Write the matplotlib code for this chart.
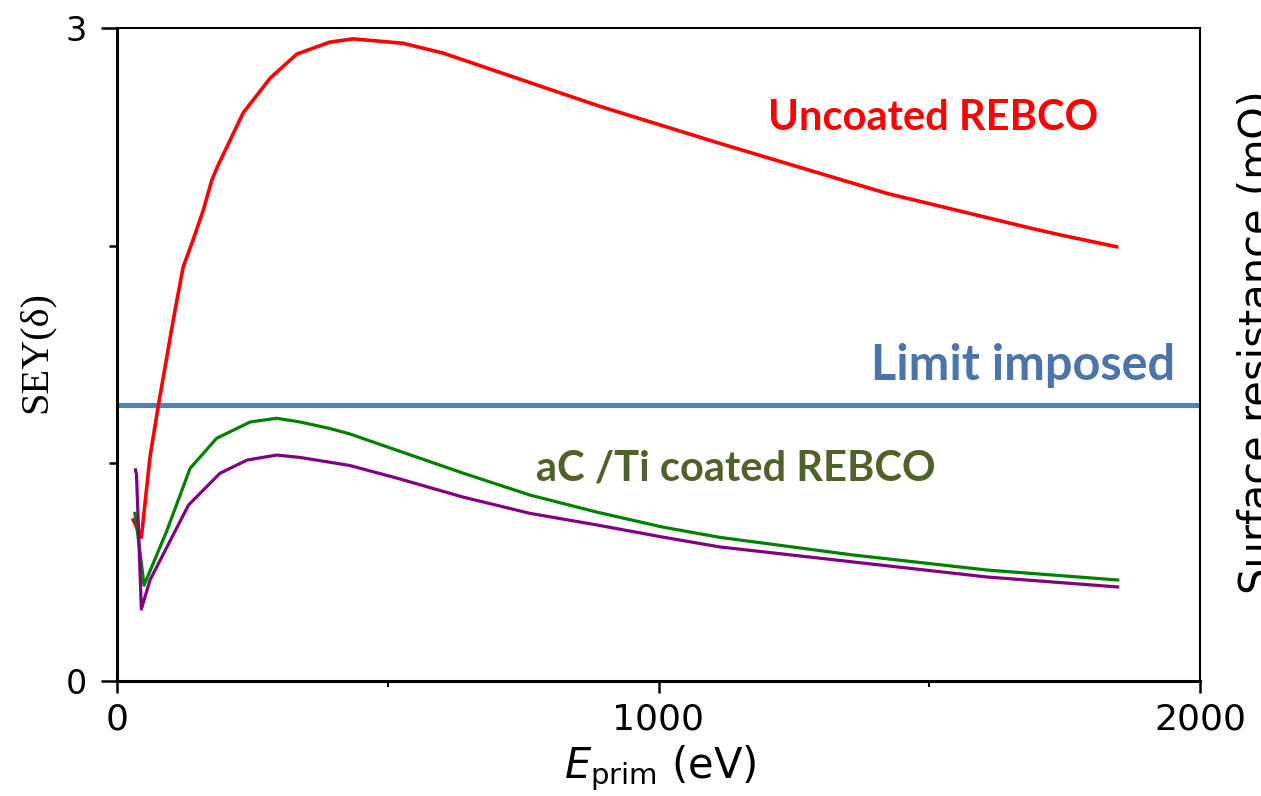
import matplotlib
matplotlib.use("Agg")
import matplotlib.pyplot as plt
from matplotlib.ticker import MultipleLocator

# values
e_uncoated = [30, 45, 61, 76, 104, 122, 141, 159, 175, 185, 233, 283, 332, 393, 436,
              528, 602, 726, 892, 1113, 1422, 1688, 1741, 1846]
sey_uncoated = [0.74, 0.66, 1.03, 1.26, 1.66, 1.90, 2.03, 2.16, 2.30, 2.36, 2.61, 2.77,
                2.88, 2.935, 2.95, 2.93, 2.885, 2.78, 2.64, 2.47, 2.24, 2.08, 2.05, 1.995]

e_green = [33, 36, 50, 92, 135, 184, 246, 295, 338, 393, 430, 517, 639, 763, 886,
           1008, 1113, 1359, 1606, 1848]
sey_green = [0.77, 0.72, 0.44, 0.69, 0.977, 1.115, 1.19, 1.207, 1.19, 1.16, 1.135, 1.06,
             0.955, 0.854, 0.776, 0.707, 0.66, 0.579, 0.51, 0.464]

e_purple = [34, 36, 45, 61, 132, 190, 240, 295, 338, 393, 430, 517, 639, 763, 886,
            1008, 1113, 1359, 1606, 1848]
sey_purple = [0.97, 0.95, 0.33, 0.464, 0.808, 0.954, 1.015, 1.038, 1.027, 1.005, 0.99,
              0.932, 0.845, 0.77, 0.717, 0.661, 0.616, 0.547, 0.478, 0.432]

limit_sey = 1.27

plt.rcParams['font.family'] = ['DejaVu Sans']
plt.rcParams['mathtext.fontset'] = 'dejavusans'

fig = plt.figure(figsize=(12.61, 7.96), dpi=100)
ax = fig.add_axes([117 / 1261, 1 - 681 / 796, (1200 - 117) / 1261, (681 - 28) / 796])

ax.plot(e_uncoated, sey_uncoated, color='#ff0000', lw=2.6, zorder=3)
ax.plot(e_green, sey_green, color='#008000', lw=2.3, zorder=3)
ax.plot(e_purple, sey_purple, color='#800080', lw=2.3, zorder=4)
ax.axhline(limit_sey, color='#4f81bd', lw=3.6, zorder=2)

ax.set_xlim(0, 2000)
ax.set_ylim(0, 3)
ax.xaxis.set_major_locator(MultipleLocator(1000))
ax.xaxis.set_minor_locator(MultipleLocator(500))
ax.yaxis.set_major_locator(MultipleLocator(3))
ax.yaxis.set_minor_locator(MultipleLocator(1))

for side in ['left', 'bottom']:
    ax.spines[side].set_linewidth(2.2)
for side in ['top', 'right']:
    ax.spines[side].set_linewidth(1.5)

ax.tick_params(axis='y', which='major', direction='out', length=11.5, width=1.8,
               pad=10, labelsize=24)
ax.tick_params(axis='y', which='minor', direction='out', length=6, width=1.8)
ax.tick_params(axis='x', which='major', direction='out', length=8.6, width=1.8,
               pad=7, labelsize=26)
ax.tick_params(axis='x', which='minor', direction='out', length=4, width=1.5)

ax.text(1507, 2.586, 'Uncoated REBCO', color='#ff0000', fontsize=30,
        fontweight='bold', family='Lato', ha='center', va='center')
ax.text(1954, 1.45, 'Limit imposed', color='#4a74aa', fontsize=35,
        fontweight='bold', family='Lato', ha='right', va='center')
ax.text(1143, 0.978, 'aC /Ti coated REBCO', color='#4f6228', fontsize=30,
        fontweight='bold', family='Lato', ha='center', va='center')

fig.text(36 / 1261, 1 - 352 / 796, 'SEY(δ)', family='Liberation Serif', fontsize=29,
         rotation=90, ha='center', va='center')
fig.text(660 / 1261, 1 - 768 / 796, r'$E_{\mathrm{prim}}$ (eV)', fontsize=30,
         ha='center', va='center')
fig.text(1237 / 1261, 1 - 342 / 796, 'Surface resistance (mΩ)', fontsize=30,
         rotation=90, ha='left', va='center')

fig.savefig('out.png', dpi=100)
